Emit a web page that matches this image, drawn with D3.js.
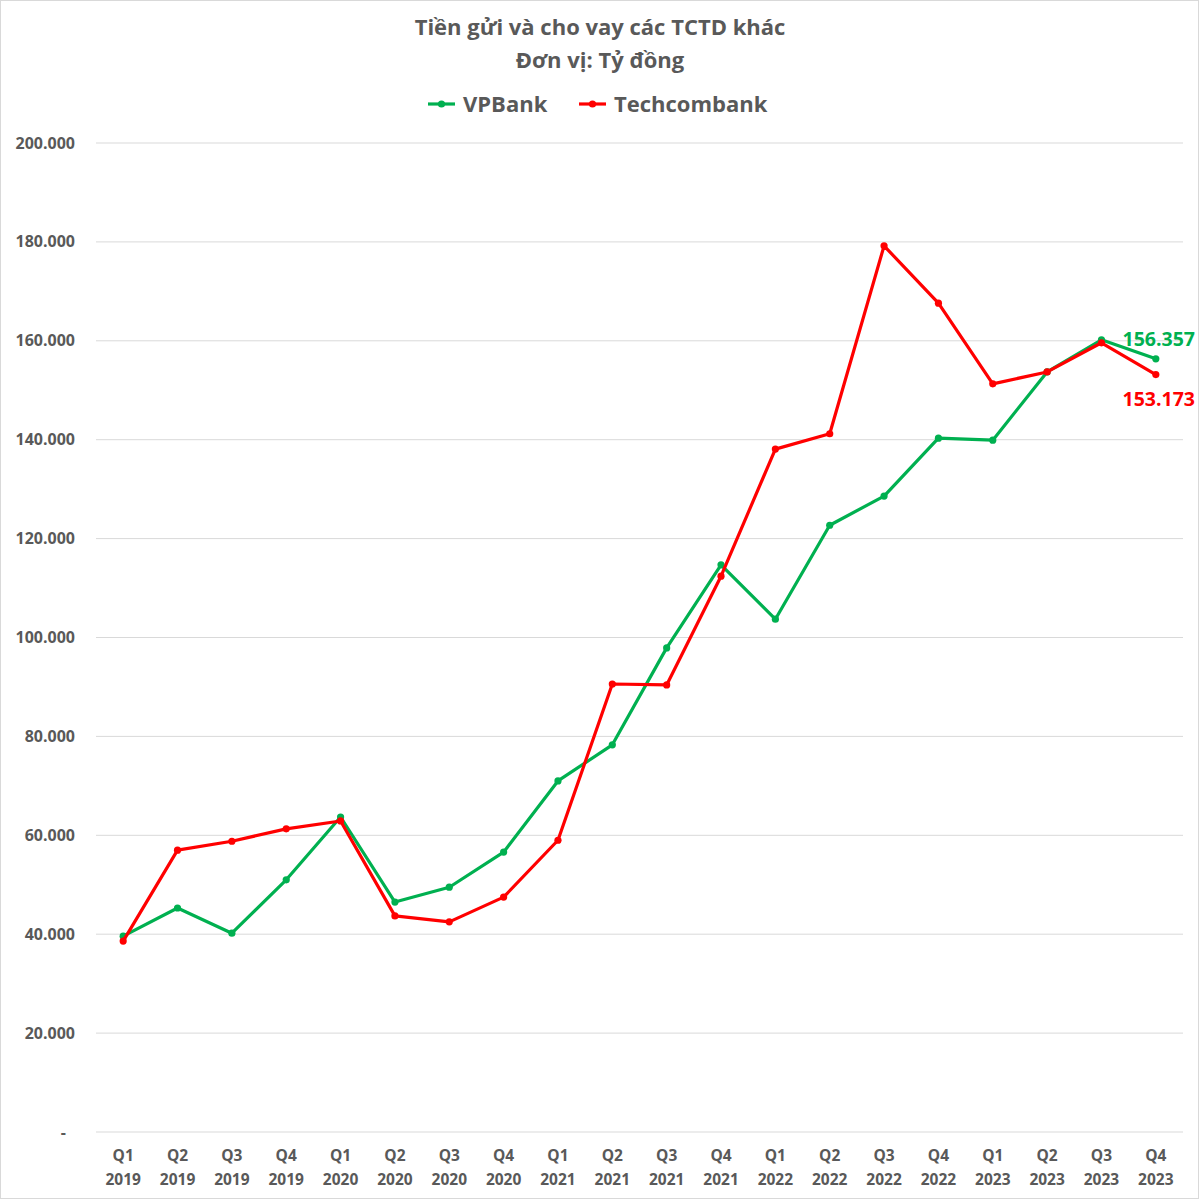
<!DOCTYPE html>
<html>
<head>
<meta charset="utf-8">
<script src="https://cdn.jsdelivr.net/npm/d3@7"></script>
<style>
  body { margin: 0; background: #fff; }
  svg { font-family: "Open Sans", "Noto Sans", sans-serif; }
</style>
</head>
<body>
<div id="chart"></div>
<script>
// Quarter labels
const quarters = ["Q1","Q2","Q3","Q4","Q1","Q2","Q3","Q4","Q1","Q2","Q3","Q4","Q1","Q2","Q3","Q4","Q1","Q2","Q3","Q4"];
const years = ["2019","2019","2019","2019","2020","2020","2020","2020","2021","2021","2021","2021","2022","2022","2022","2022","2023","2023","2023","2023"];

// Values in ty dong
const vpbank = [39600, 45300, 40200, 51000, 63700, 46500, 49500, 56600, 71000, 78300, 97900, 114700, 103700, 122700, 128600, 140300, 139900, 153700, 160200, 156357];
const techcombank = [38600, 57000, 58800, 61300, 62900, 43700, 42500, 47500, 59000, 90600, 90400, 112400, 138100, 141200, 179200, 167600, 151300, 153700, 159600, 153173];

const yTicks = [0, 20000, 40000, 60000, 80000, 100000, 120000, 140000, 160000, 180000, 200000];

const width = 1199, height = 1199;
const plotLeft = 96, plotRight = 1183, plotTop = 143, plotBottom = 1132;
const textColor = "#595959";
const green = "#00B050", red = "#FF0000";

const svg = d3.select("#chart").append("svg")
    .attr("width", width)
    .attr("height", height);

// outer border
svg.append("rect")
    .attr("x", 0.5).attr("y", 0.5)
    .attr("width", width - 1).attr("height", height - 1)
    .attr("fill", "none").attr("stroke", "#d9d9d9");

const idx = d3.range(quarters.length);
const x = d3.scaleBand().domain(idx).range([plotLeft, plotRight]);
const y = d3.scaleLinear().domain([0, 200000]).range([plotBottom, plotTop]);
const fmt = v => v === 0 ? "-" : d3.format(",")(v).replace(/,/g, ".");

// gridlines
svg.append("g").selectAll("line")
    .data(yTicks)
    .join("line")
    .attr("x1", plotLeft).attr("x2", plotRight)
    .attr("y1", d => y(d)).attr("y2", d => y(d))
    .attr("stroke", "#d9d9d9").attr("stroke-width", 1);

// y axis labels
svg.append("g").selectAll("text")
    .data(yTicks)
    .join("text")
    .attr("x", d => d === 0 ? 66 : 75)
    .attr("y", d => y(d) + 5.5)
    .attr("text-anchor", "end")
    .attr("fill", textColor)
    .attr("font-size", 16)
    .attr("font-weight", "bold")
    .text(fmt);

// x axis labels
const xl = svg.append("g").selectAll("text")
    .data(idx)
    .join("text")
    .attr("text-anchor", "middle")
    .attr("fill", textColor)
    .attr("font-size", 15.5)
    .attr("font-weight", "bold");
xl.append("tspan")
    .attr("x", i => x(i) + x.bandwidth() / 2)
    .attr("y", 1161)
    .text(i => quarters[i]);
xl.append("tspan")
    .attr("x", i => x(i) + x.bandwidth() / 2)
    .attr("y", 1185)
    .text(i => years[i]);

// series
const series = [
    { name: "VPBank", values: vpbank, color: green },
    { name: "Techcombank", values: techcombank, color: red }
];
const line = d3.line()
    .x((d, i) => x(i) + x.bandwidth() / 2)
    .y(d => y(d));

series.forEach(s => {
    svg.append("path")
        .datum(s.values)
        .attr("fill", "none")
        .attr("stroke", s.color)
        .attr("stroke-width", 3.2)
        .attr("stroke-linejoin", "round")
        .attr("d", line);
    svg.append("g").selectAll("circle")
        .data(s.values)
        .join("circle")
        .attr("cx", (d, i) => x(i) + x.bandwidth() / 2)
        .attr("cy", d => y(d))
        .attr("r", 3.6)
        .attr("fill", s.color);
});

// end labels
const last = quarters.length - 1;
svg.append("text")
    .attr("x", 1195).attr("y", y(vpbank[last]) - 13)
    .attr("text-anchor", "end")
    .attr("fill", green).attr("font-size", 19.5).attr("font-weight", "bold")
    .text(fmt(vpbank[last]));
svg.append("text")
    .attr("x", 1195).attr("y", y(techcombank[last]) + 31)
    .attr("text-anchor", "end")
    .attr("fill", red).attr("font-size", 19.5).attr("font-weight", "bold")
    .text(fmt(techcombank[last]));

// title
svg.append("text")
    .attr("x", 600).attr("y", 35)
    .attr("text-anchor", "middle")
    .attr("fill", textColor).attr("font-size", 22).attr("font-weight", "bold")
    .text("Tiền gửi và cho vay các TCTD khác");
svg.append("text")
    .attr("x", 600).attr("y", 68)
    .attr("text-anchor", "middle")
    .attr("fill", textColor).attr("font-size", 22).attr("font-weight", "bold")
    .text("Đơn vị: Tỷ đồng");

// legend
const legendItems = [
    { name: "VPBank", color: green, x: 428 },
    { name: "Techcombank", color: red, x: 579 }
];
legendItems.forEach(d => {
    svg.append("line")
        .attr("x1", d.x).attr("x2", d.x + 27)
        .attr("y1", 104).attr("y2", 104)
        .attr("stroke", d.color).attr("stroke-width", 3.2);
    svg.append("circle")
        .attr("cx", d.x + 13.5).attr("cy", 104).attr("r", 3.6)
        .attr("fill", d.color);
    svg.append("text")
        .attr("x", d.x + 35).attr("y", 112)
        .attr("fill", textColor).attr("font-size", 22).attr("font-weight", "bold")
        .text(d.name);
});
</script>
</body>
</html>
